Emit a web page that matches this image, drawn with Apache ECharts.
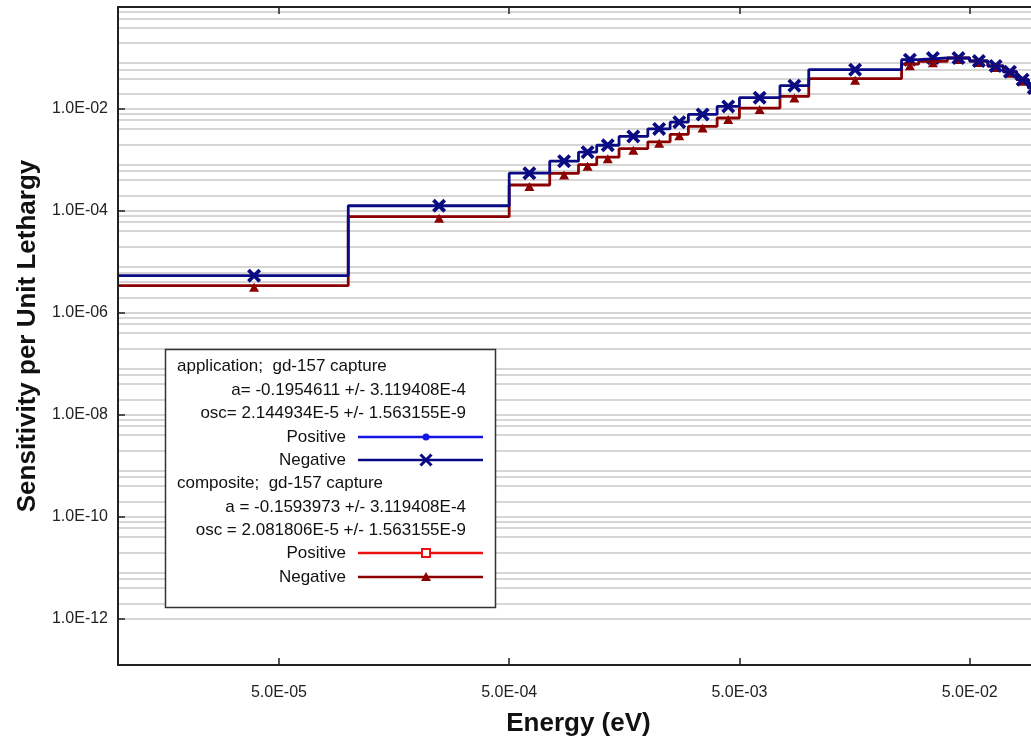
<!DOCTYPE html>
<html>
<head>
<meta charset="utf-8">
<script src="https://cdn.jsdelivr.net/npm/echarts@6/dist/echarts.min.js"></script>
<style>
  html, body { margin: 0; padding: 0; background: #fff; }
  #main { width: 1031px; height: 742px; }
</style>
</head>
<body>
<div id="main"></div>
<script>
// energy group boundaries (eV)
const groupEdges = [1e-5, 1e-4, 5e-4, 7.5e-4, 1e-3, 1.2e-3, 1.5e-3, 2e-3, 2.5e-3, 3e-3, 4e-3,
    5e-3, 7.5e-3, 1e-2, 2.53e-2, 3e-2, 4e-2, 5e-2, 6e-2, 7e-2, 8e-2, 9e-2, 0.1];
// application; gd-157 capture, Negative
const appNegative = [5.35e-6, 1.26e-4, 5.48e-4, 9.44e-4, 1.42e-3, 1.94e-3, 2.89e-3, 4.06e-3, 5.5e-3, 7.82e-3,
    1.12e-2, 1.66e-2, 2.86e-2, 5.89e-2, 9.25e-2, 0.0999, 0.0999, 0.0872, 0.0696, 0.0536, 0.0375, 0.0258];
// composite; gd-157 capture, Negative
const compNegative = [3.4e-6, 7.69e-5, 3.22e-4, 5.43e-4, 8.05e-4, 1.13e-3, 1.66e-3, 2.26e-3, 3.17e-3, 4.54e-3,
    6.64e-3, 1.04e-2, 1.76e-2, 3.92e-2, 7.54e-2, 0.086, 0.0999, 0.0872, 0.0696, 0.0536, 0.0375, 0.0258];
// energies where the markers sit
const markerEnergy = [3.9e-5, 2.48e-4, 6.12e-4, 8.66e-4, 1.095e-3, 1.34e-3, 1.73e-3, 2.24e-3, 2.74e-3, 3.46e-3,
    4.47e-3, 6.12e-3, 8.66e-3, 1.59e-2, 2.75e-2, 3.46e-2, 4.47e-2, 5.48e-2, 6.48e-2, 7.48e-2, 8.49e-2, 9.49e-2];
const xTicks = [5e-5, 5e-4, 5e-3, 5e-2];
const yTicks = [1e-12, 1e-10, 1e-8, 1e-6, 1e-4, 1e-2];

const NAVY = '#0a0a82';
const DARKRED = '#8b0000';
const FONT = '"Liberation Sans", Arial, sans-serif';

function stepData(vals) {
    const d = vals.map((v, i) => [groupEdges[i], v]);
    d.push([groupEdges[vals.length], vals[vals.length - 1]]);
    return d;
}
function sci(v) {
    const e = Math.floor(Math.log10(v) + 1e-9);
    const m = v / Math.pow(10, e);
    return m.toFixed(1) + 'E' + (e < 0 ? '-' : '+') + String(Math.abs(e)).padStart(2, '0');
}

// horizontal grid: 2,4,6,8 x 10^n in each decade, plus the labelled decades
const gridVals = [];
for (let e = -12; e <= -1; e++) {
    if (e % 2 === 0) gridVals.push(Math.pow(10, e));
    [2, 4, 6, 8].forEach(m => gridVals.push(m * Math.pow(10, e)));
}

const xCommon = {
    type: 'log', logBase: 10, min: 1e-5, max: 0.1,
    axisLine: { show: true, lineStyle: { color: '#222', width: 2 } },
    axisTick: { show: true, inside: true, length: 7, customValues: xTicks, lineStyle: { color: '#222', width: 1.5 } },
    splitLine: { show: false },
    minorTick: { show: false },
    z: 5
};

// legend drawn as a box
const lgText = (x, y, text, align) => ({
    type: 'text', x: x, y: y, z: 101,
    style: { text: text, font: '17px ' + FONT, fill: '#111', align: align, verticalAlign: 'middle' }
});
const lgLine = (y, color) => ({
    type: 'line', z: 101, shape: { x1: 358, y1: y, x2: 483, y2: y },
    style: { stroke: color, lineWidth: 2.5 }
});
const legend = [
    { type: 'rect', z: 100, shape: { x: 165.5, y: 349.5, width: 330, height: 258 },
      style: { fill: '#fff', stroke: '#333', lineWidth: 1.5 } },
    lgText(177, 366, 'application;  gd-157 capture', 'left'),
    lgText(466, 390, 'a= -0.1954611 +/- 3.119408E-4', 'right'),
    lgText(466, 413, 'osc= 2.144934E-5 +/- 1.563155E-9', 'right'),
    lgText(346, 437, 'Positive', 'right'),
    lgLine(437, '#1414e6'),
    { type: 'circle', z: 102, shape: { cx: 426, cy: 437, r: 3.5 }, style: { fill: '#1414e6' } },
    lgText(346, 460, 'Negative', 'right'),
    lgLine(460, NAVY),
    { type: 'line', z: 102, shape: { x1: 420.5, y1: 454.5, x2: 431.5, y2: 465.5 }, style: { stroke: NAVY, lineWidth: 3 } },
    { type: 'line', z: 102, shape: { x1: 420.5, y1: 465.5, x2: 431.5, y2: 454.5 }, style: { stroke: NAVY, lineWidth: 3 } },
    lgText(177, 483, 'composite;  gd-157 capture', 'left'),
    lgText(466, 507, 'a = -0.1593973 +/- 3.119408E-4', 'right'),
    lgText(466, 530, 'osc = 2.081806E-5 +/- 1.563155E-9', 'right'),
    lgText(346, 553, 'Positive', 'right'),
    lgLine(553, '#ee1111'),
    { type: 'rect', z: 102, shape: { x: 422, y: 549, width: 8, height: 8 },
      style: { fill: '#fff', stroke: '#ee1111', lineWidth: 2 } },
    lgText(346, 577, 'Negative', 'right'),
    lgLine(577, DARKRED),
    { type: 'polygon', z: 102, shape: { points: [[426, 572], [431, 581], [421, 581]] }, style: { fill: DARKRED } }
];

const option = {
    animation: false,
    grid: { left: 118, top: 7, right: -8, bottom: 77, outerBoundsMode: 'none' },
    xAxis: [
        Object.assign({}, xCommon, {
            position: 'bottom',
            axisLabel: { customValues: xTicks, formatter: sci, fontSize: 16, fontFamily: FONT, color: '#222', margin: 20 },
            name: 'Energy (eV)', nameLocation: 'middle', nameGap: 46,
            nameTextStyle: { fontSize: 26, fontWeight: 'bold', fontFamily: FONT, color: '#111' }
        }),
        Object.assign({}, xCommon, { position: 'top', axisLabel: { show: false } })
    ],
    yAxis: {
        type: 'log', logBase: 10, min: 1.23e-13, max: 1,
        axisLine: { show: true, lineStyle: { color: '#222', width: 2 } },
        axisTick: { show: true, inside: true, length: 7, customValues: yTicks, lineStyle: { color: '#222', width: 1.5 } },
        axisLabel: { customValues: yTicks, formatter: sci, fontSize: 16, fontFamily: FONT, color: '#222', margin: 10 },
        splitLine: { show: false },
        minorTick: { show: false },
        name: 'Sensitivity per Unit Lethargy', nameLocation: 'middle', nameGap: 77,
        nameTextStyle: { fontSize: 26, fontWeight: 'bold', fontFamily: FONT, color: '#111' },
        z: 5
    },
    graphic: legend,
    series: [
        {
            name: 'composite Negative', type: 'line', step: 'end', showSymbol: false,
            data: stepData(compNegative),
            lineStyle: { color: DARKRED, width: 2.8 }, itemStyle: { color: DARKRED },
            markLine: {
                silent: true, z: 1, precision: 20, symbol: ['none', 'none'], label: { show: false },
                lineStyle: { color: '#c8c8c8', width: 1.5, type: 'solid' },
                emphasis: { disabled: true },
                data: gridVals.map(v => ({ yAxis: v }))
            }
        },
        {
            name: 'composite Negative markers', type: 'scatter', symbol: 'triangle', symbolSize: [10, 9],
            symbolOffset: [0, 1.5],
            data: markerEnergy.map((e, i) => [e, compNegative[i]]),
            itemStyle: { color: DARKRED, opacity: 1 }
        },
        {
            name: 'application Negative', type: 'line', step: 'end', showSymbol: false,
            data: stepData(appNegative),
            lineStyle: { color: NAVY, width: 2.8 }, itemStyle: { color: NAVY }
        },
        {
            name: 'application Negative markers', type: 'scatter',
            symbol: 'path://M0,1.9L1.9,0L5,3.1L8.1,0L10,1.9L6.9,5L10,8.1L8.1,10L5,6.9L1.9,10L0,8.1L3.1,5Z',
            symbolSize: 14, clip: false,
            data: markerEnergy.map((e, i) => [e, appNegative[i]]),
            itemStyle: { color: NAVY, opacity: 1 }
        }
    ]
};

const myChart = echarts.init(document.getElementById('main'));
myChart.setOption(option);
</script>
</body>
</html>
